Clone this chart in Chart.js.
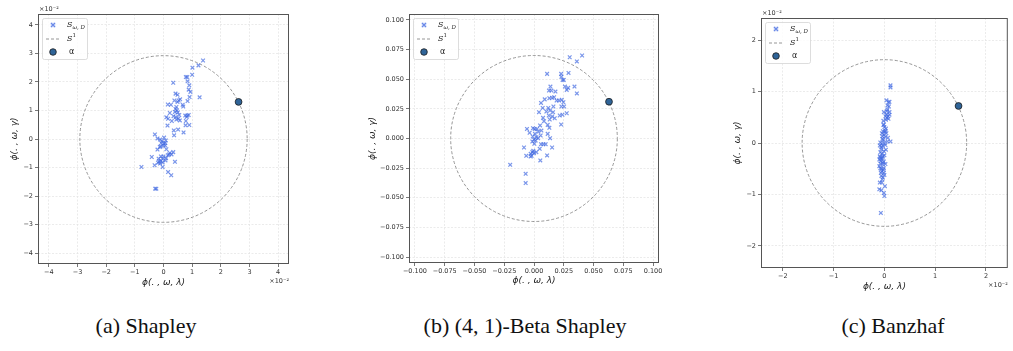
<!DOCTYPE html>
<html>
<head>
<meta charset="utf-8">
<script src="https://cdn.jsdelivr.net/npm/chart.js@4/dist/chart.umd.min.js"></script>
<style>
  body { margin: 0; background: #fff; width: 1013px; height: 351px; position: relative; overflow: hidden; }
  canvas { position: absolute; top: 0; }
  .cap { position: absolute; top: 313px; font-family: "Liberation Serif", "Times New Roman", serif; font-size: 22px; color: #111; transform: translateX(-50%); white-space: nowrap; }
</style>
</head>
<body>
<canvas id="c1" width="300" height="300" style="left:0px"></canvas>
<canvas id="c2" width="330" height="300" style="left:340px"></canvas>
<canvas id="c3" width="313" height="300" style="left:700px"></canvas>
<div class="cap" style="left:146px">(a) Shapley</div>
<div class="cap" style="left:525px">(b) (4, 1)-Beta Shapley</div>
<div class="cap" style="left:893px">(c) Banzhaf</div>
<script>
// (a) Shapley, values in units of 1e-2
const shapX = [1.38, 1.22, 1.01, 1.00, 0.34, 0.78, 0.83, 0.84, 0.90, 0.88, 0.94, 0.91, 1.26, 0.42, 0.49, 0.58, 0.53, 0.38, 0.49, 0.84,
  0.67, 0.69, 0.15, 0.26, 0.45, 0.42, 0.40, 0.50, 0.22, 0.10, 0.16, 0.35, 0.43, 0.55, 0.45, 0.57, 0.29, 0.76, 0.83, 0.88,
  0.81, 0.78, 0.77, 0.90, 0.14, 0.51, 0.36, 0.70, 0.37, -0.30, -0.21, -0.12, -0.05, 0.02, 0.08, -0.08, 0.06, -0.10, -0.01, 0.06,
  -0.21, 0.10, 0.22, 0.28, 0.19, 0.34, 0.15, -0.41, -0.09, 0.00, -0.17, -0.03, -0.09, -0.19, -0.12, -0.03, 0.07, -0.31, 0.40, -0.77,
  -0.03, 0.16, 0.27, -0.29, -0.25, -0.13, 0.01, 0.47, 0.52, -0.15, 0.09];
const shapY = [2.75, 2.58, 2.50, 2.25, 1.97, 2.17, 2.17, 2.02, 1.88, 1.73, 1.65, 1.47, 1.46, 1.59, 1.55, 1.39, 1.35, 1.35, 1.30, 1.33,
  1.20, 1.14, 1.21, 1.20, 1.12, 1.05, 0.95, 0.93, 0.91, 0.76, 0.71, 0.80, 0.77, 0.84, 0.68, 0.65, 0.63, 0.82, 0.82, 0.84,
  0.77, 0.63, 0.48, 0.49, 0.47, 0.33, 0.30, 0.23, 0.13, 0.16, 0.02, -0.02, -0.07, 0.05, -0.05, -0.14, -0.14, -0.26, -0.23, -0.23,
  -0.37, -0.36, -0.49, -0.54, -0.54, -0.46, -0.57, -0.63, -0.61, -0.61, -0.69, -0.70, -0.77, -0.83, -0.86, -0.82, -0.75, -0.92, -0.80, -0.98,
  -0.98, -1.16, -1.27, -1.74, -1.74, -0.28, -0.16, 1.00, 0.72, -0.78, -0.67];
const shapAlpha = [2.62, 1.30];
const shapRadius = [2.92];
const shapTicks = [-4, -3, -2, -1, 0, 1, 2, 3, 4];

// (b) (4,1)-Beta Shapley
const betaX = [0.0404, 0.0300, 0.0360, 0.0290, 0.0110, 0.0228, 0.0230, 0.0250, 0.0240, 0.0340, 0.0360, 0.0260, 0.0275, 0.0287, 0.0138, 0.0126, 0.0146, 0.0180,
  0.0090, 0.0059, 0.0129, 0.0152, 0.0169, 0.0190, 0.0210, 0.0233, 0.0247, 0.0253, 0.0230, 0.0163, 0.0120, 0.0073, 0.0042, 0.0104, 0.0135, 0.0160,
  0.0275, 0.0239, 0.0216, 0.0124, 0.0152, 0.0076, 0.0084, 0.0132, 0.0174, 0.0228, 0.0115, 0.0051, 0.0129, 0.0006, -0.0059, -0.0008, 0.0025, 0.0062,
  0.0037, -0.0037, 0.0056, 0.0115, 0.0008, -0.0011, 0.0020, 0.0034, 0.0000, 0.0014, -0.0014, 0.0135, 0.0059, 0.0079, 0.0098, 0.0152, -0.0084, 0.0003,
  0.0048, -0.0006, 0.0020, -0.0014, -0.0028, 0.0000, -0.0020, -0.0065, -0.0028, 0.0110, 0.0053, -0.0200, -0.0070, -0.0070];
const betaY = [0.0700, 0.0685, 0.0650, 0.0553, 0.0545, 0.0545, 0.0520, 0.0494, 0.0494, 0.0438, 0.0380, 0.0438, 0.0410, 0.0427, 0.0438, 0.0404, 0.0404, 0.0396,
  0.0330, 0.0300, 0.0340, 0.0343, 0.0348, 0.0320, 0.0320, 0.0326, 0.0306, 0.0270, 0.0270, 0.0270, 0.0258, 0.0258, 0.0222, 0.0227, 0.0236, 0.0222,
  0.0213, 0.0200, 0.0194, 0.0194, 0.0185, 0.0174, 0.0146, 0.0160, 0.0171, 0.0118, 0.0115, 0.0110, 0.0090, 0.0081, 0.0081, 0.0087, 0.0081, 0.0067,
  0.0056, 0.0048, 0.0025, 0.0039, 0.0039, 0.0017, 0.0011, 0.0003, -0.0008, -0.0017, -0.0025, 0.0003, -0.0048, -0.0048, -0.0048, -0.0076, -0.0076, -0.0045,
  -0.0087, -0.0104, -0.0115, -0.0115, -0.0129, -0.0124, -0.0146, -0.0146, -0.0152, -0.0143, -0.0185, -0.0222, -0.0298, -0.0376];
const betaAlpha = [0.063, 0.031];
const betaRadius = [0.070];
const betaTicks = [-0.1, -0.075, -0.05, -0.025, 0, 0.025, 0.05, 0.075, 0.1];

// (c) Banzhaf, values in units of 1e-2
const banzX = [0.12, 0.12, 0.04, 0.08, 0.09, 0.06, 0.10, -0.01, 0.02, 0.05, 0.07, 0.03, 0.10, -0.01, 0.00, 0.02, -0.03, 0.04, -0.01, -0.04,
  0.02, -0.02, -0.08, 0.06, 0.12, 0.00, -0.05, -0.03, -0.06, -0.01, -0.05, -0.09, -0.03, -0.06, -0.01, -0.10, -0.08, -0.03, -0.08, -0.01,
  -0.05, -0.01, -0.06, -0.03, -0.09, -0.05, -0.10, -0.06, -0.01, 0.00, -0.07, 0.03, -0.02, 0.01, -0.04, 0.02, -0.06, 0.03, -0.08, 0.00,
  -0.04, -0.07, 0.02, -0.10, -0.02, -0.07, 0.00, -0.04, -0.06, 0.05, 0.08, 0.04, -0.02, 0.06, 0.10, -0.05, 0.07, -0.09, -0.03, -0.08, 0.01];
const banzY = [1.12, 1.08, 0.83, 0.79, 0.71, 0.65, 0.60, 0.60, 0.52, 0.49, 0.52, 0.45, 0.55, 0.36, 0.31, 0.24, 0.23, 0.19, 0.16, 0.13,
  0.12, 0.06, 0.01, 0.03, 0.03, 0.00, -0.01, -0.06, -0.12, -0.16, -0.21, -0.26, -0.26, -0.31, -0.36, -0.32, -0.40, -0.42, -0.49, -0.49,
  -0.55, -0.58, -0.64, -0.67, -0.77, -0.77, -0.90, -0.92, -0.97, -1.03, -1.36, 0.28, 0.35, 0.22, 0.08, -0.04, -0.08, -0.13, -0.18, -0.24,
  -0.29, -0.35, -0.41, -0.45, -0.52, -0.58, -0.62, -0.71, -0.50, 0.62, 0.47, 0.56, 0.43, 0.73, 0.80, 0.19, 0.10, -0.05, -0.38, -0.28, -0.84];
const banzAlpha = [1.46, 0.72];
const banzRadius = [1.62];
const banzTicks = [-2, -1, 0, 1, 2];

const xLabel = "ϕ(. , ω, λ)";
const yLabel = "ϕ(. , ω, γ)";

function minus(s) { return s.replace("-", "\u2212"); }

// dashed circle, frame, legend and offset text
const decorPlugin = {
  id: "decor",
  beforeDatasetsDraw(chart) {
    const o = chart.options.plugins.decor;
    const xs = chart.scales.x, ys = chart.scales.y;
    const cx = xs.getPixelForValue(0), cy = ys.getPixelForValue(0);
    const rx = xs.getPixelForValue(o.radius) - cx;
    const ry = cy - ys.getPixelForValue(o.radius);
    const ctx = chart.ctx;
    ctx.save();
    ctx.strokeStyle = "#8a8a8a";
    ctx.lineWidth = 0.9;
    ctx.setLineDash([3, 2]);
    ctx.beginPath();
    ctx.ellipse(cx, cy, rx, ry, 0, 0, Math.PI * 2);
    ctx.stroke();
    ctx.restore();
  },
  afterDraw(chart) {
    const o = chart.options.plugins.decor;
    const a = chart.chartArea;
    const ctx = chart.ctx;
    ctx.save();
    // frame
    ctx.strokeStyle = "#555";
    ctx.lineWidth = 1;
    ctx.strokeRect(a.left + 0.5, a.top + 0.5, a.right - a.left - 1, a.bottom - a.top - 1);
    // legend box
    const lx = a.left + 4, ly = a.top + 4;
    ctx.fillStyle = "rgba(255,255,255,0.85)";
    ctx.strokeStyle = "#d4d4d4";
    ctx.lineWidth = 0.8;
    ctx.beginPath();
    ctx.roundRect(lx + 0.5, ly + 0.5, 45, 41, 2);
    ctx.fill();
    ctx.stroke();
    // x marker
    const mx = lx + 11, m1 = ly + 7;
    ctx.fillStyle = "rgba(65,105,225,0.15)";
    ctx.fillRect(mx - 2.5, m1 - 2.5, 5, 5);
    ctx.strokeStyle = "rgba(65,105,225,0.75)";
    ctx.lineWidth = 1.2;
    ctx.beginPath();
    ctx.moveTo(mx - 2, m1 - 2); ctx.lineTo(mx + 2, m1 + 2);
    ctx.moveTo(mx - 2, m1 + 2); ctx.lineTo(mx + 2, m1 - 2);
    ctx.stroke();
    // dashed line
    ctx.strokeStyle = "#8a8a8a";
    ctx.lineWidth = 0.9;
    ctx.setLineDash([3, 2]);
    ctx.beginPath();
    ctx.moveTo(lx + 4, ly + 21); ctx.lineTo(lx + 19, ly + 21);
    ctx.stroke();
    ctx.setLineDash([]);
    // alpha dot
    ctx.fillStyle = "#2f6498";
    ctx.strokeStyle = "#1c1c1c";
    ctx.lineWidth = 0.8;
    ctx.beginPath();
    ctx.arc(mx, ly + 34, 3.3, 0, Math.PI * 2);
    ctx.fill();
    ctx.stroke();
    // legend text
    ctx.fillStyle = "#222";
    ctx.textBaseline = "middle";
    ctx.textAlign = "left";
    ctx.font = "italic 8px 'DejaVu Serif'";
    ctx.fillText("S", lx + 25, m1);
    ctx.font = "italic 5.5px 'DejaVu Serif'";
    ctx.fillText("ω, D", lx + 30.5, m1 + 2.5);
    ctx.font = "italic 8px 'DejaVu Serif'";
    ctx.fillText("S", lx + 25, ly + 21);
    ctx.font = "5.5px 'DejaVu Serif'";
    ctx.fillText("1", lx + 30.5, ly + 18);
    ctx.font = "8px 'DejaVu Sans'";
    ctx.fillText("α", lx + 27, ly + 34);
    // offset text
    if (o.offset) {
      ctx.font = "6.5px 'DejaVu Sans'";
      ctx.fillStyle = "#333";
      ctx.textAlign = "left";
      ctx.fillText("×10⁻²", a.left + 1, a.top - 5);
      ctx.textAlign = "right";
      ctx.fillText("×10⁻²", a.right, a.bottom + 17);
    }
    ctx.restore();
  }
};

function makePanel(id, xs, ys, alpha, radius, ticks, range, fmt, lay) {
  const points = xs.map((x, i) => ({ x: x, y: ys[i] }));
  const tickFont = { family: "DejaVu Sans", size: 6.5 };
  const titleFont = { family: "DejaVu Sans", size: 9, style: "italic" };
  const grid = { color: "#e6e6e6", lineWidth: 0.8, tickColor: "#555", tickLength: 3, tickWidth: 0.8 };
  new Chart(document.getElementById(id).getContext("2d"), {
    type: "scatter",
    data: {
      datasets: [
        {
          data: points,
          pointStyle: "crossRot",
          pointRadius: 2.6,
          borderColor: "rgba(65,105,225,0.7)",
          backgroundColor: "rgba(65,105,225,0.15)",
          borderWidth: 1.2,
        },
        {
          data: [{ x: alpha[0], y: alpha[1] }],
          pointStyle: "circle",
          pointRadius: 3.4,
          backgroundColor: "#2f6498",
          borderColor: "#1c1c1c",
          borderWidth: 0.8,
        },
      ],
    },
    plugins: [decorPlugin],
    options: {
      responsive: false,
      animation: false,
      layout: { padding: { left: 0, right: lay.right, top: lay.top, bottom: 0 } },
      plugins: {
        legend: { display: false },
        tooltip: { enabled: false },
        decor: { radius: radius[0], offset: lay.offset },
      },
      scales: {
        x: {
          type: "linear",
          min: -range,
          max: range,
          afterBuildTicks: (s) => { s.ticks = ticks.map((v) => ({ value: v })); },
          afterFit: (s) => { s.height = lay.xh; },
          grid: grid,
          border: { display: false, dash: [2, 1.5] },
          ticks: { font: tickFont, color: "#333", padding: 1, maxRotation: 0, autoSkip: false, callback: fmt },
          title: { display: true, text: xLabel, font: titleFont, color: "#222", padding: { top: 0, bottom: lay.xt } },
        },
        y: {
          type: "linear",
          min: -range,
          max: range,
          afterBuildTicks: (s) => { s.ticks = ticks.map((v) => ({ value: v })); },
          afterFit: (s) => { s.width = lay.yw; },
          grid: grid,
          border: { display: false, dash: [2, 1.5] },
          ticks: { font: tickFont, color: "#333", padding: 2, autoSkip: false, callback: fmt },
          title: { display: true, text: yLabel, font: titleFont, color: "#222", padding: { top: lay.yt, bottom: 0 } },
        },
      },
    },
  });
}

const intFmt = (v) => minus(String(Math.round(v)));
const decFmt = (v) => minus(v.toFixed(3));

makePanel("c1", shapX, shapY, shapAlpha, shapRadius, shapTicks, 4.38, intFmt,
  { yw: 38, xh: 36, right: 11, top: 14, xt: 11.6, yt: 9.6, offset: true });
makePanel("c2", betaX, betaY, betaAlpha, betaRadius, betaTicks, 0.105, decFmt,
  { yw: 69, xh: 37, right: 11, top: 14, xt: 13.6, yt: 27.6, offset: false });
makePanel("c3", banzX, banzY, banzAlpha, banzRadius, banzTicks, 2.43, intFmt,
  { yw: 61, xh: 32, right: 1, top: 18, xt: 7.6, yt: 32.6, offset: true });
</script>
</body>
</html>
